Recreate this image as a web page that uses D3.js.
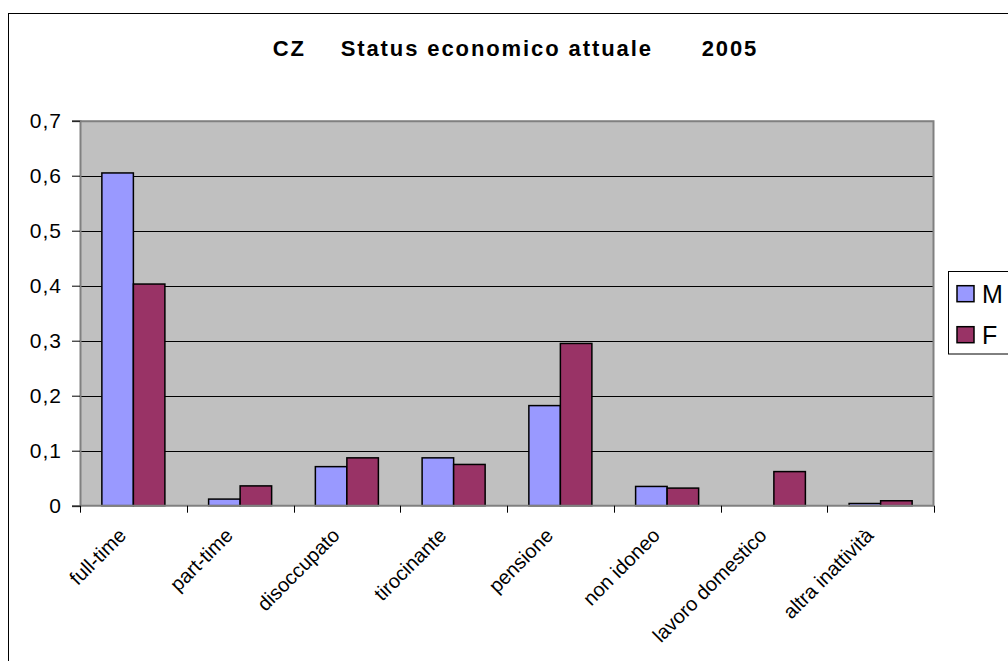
<!DOCTYPE html>
<html>
<head>
<meta charset="utf-8">
<script src="https://cdn.jsdelivr.net/npm/d3@7"></script>
<style>
  html, body { margin: 0; padding: 0; background: #fff; }
  svg { display: block; font-family: Arial, "Liberation Sans", sans-serif; }
</style>
</head>
<body>
<svg id="chart" width="1008" height="661"></svg>
<script>
const categories = ["full-time", "part-time", "disoccupato", "tirocinante", "pensione", "non idoneo", "lavoro domestico", "altra inattività"];
const seriesNames = ["M", "F"];
const valuesM = [0.605, 0.012, 0.071, 0.087, 0.182, 0.035, 0.0, 0.004];
const valuesF = [0.403, 0.036, 0.087, 0.075, 0.295, 0.032, 0.062, 0.009];
const yTicks = [0, 0.1, 0.2, 0.3, 0.4, 0.5, 0.6, 0.7];
const titleParts = ["CZ", "Status economico attuale", "2005"];
const colors = { M: "#9999FF", F: "#993366" };

const svg = d3.select("#chart");

// outer chart border (extends beyond the visible frame at right/bottom)
svg.append("rect")
  .attr("x", 8.5).attr("y", 13.5)
  .attr("width", 1100).attr("height", 700)
  .attr("fill", "#fff").attr("stroke", "#000").attr("stroke-width", 1);

const plot = { left: 80, right: 934, top: 120.7, bottom: 505.7 };

const x = d3.scaleBand().domain(categories).range([plot.left, plot.right]).paddingInner(0).paddingOuter(0);
const x1 = d3.scaleBand().domain(seriesNames).range([0, x.bandwidth()]).paddingInner(0).paddingOuter(0.694);
const y = d3.scaleLinear().domain([0, 0.7]).range([plot.bottom, plot.top]);

// plot background
svg.append("rect")
  .attr("x", plot.left).attr("y", plot.top)
  .attr("width", plot.right - plot.left).attr("height", plot.bottom - plot.top)
  .attr("fill", "#C0C0C0");

// gridlines
svg.append("g").selectAll("line")
  .data(yTicks.filter(t => t > 0 && t < 0.7))
  .join("line")
  .attr("x1", plot.left).attr("x2", plot.right)
  .attr("y1", d => Math.round(y(d)) + 0.5).attr("y2", d => Math.round(y(d)) + 0.5)
  .attr("stroke", "#000").attr("stroke-width", 1);

// plot frame top/right (grey)
svg.append("path")
  .attr("d", `M${plot.left},${plot.top + 0.5}H${plot.right - 0.5}V${plot.bottom}`)
  .attr("fill", "none").attr("stroke", "#808080").attr("stroke-width", 2);

// bars
const data = categories.map((c, i) => ({ cat: c, M: valuesM[i], F: valuesF[i] }));
const groups = svg.append("g").selectAll("g")
  .data(data).join("g")
  .attr("transform", d => `translate(${x(d.cat)},0)`);
groups.selectAll("rect")
  .data(d => seriesNames.map(s => ({ s, v: d[s] })))
  .join("rect")
  .attr("x", d => x1(d.s))
  .attr("y", d => y(d.v))
  .attr("width", x1.bandwidth())
  .attr("height", d => y(0) - y(d.v))
  .attr("fill", d => colors[d.s])
  .attr("stroke", "#000").attr("stroke-width", 1.5);

// y axis
const fmt = d => d === 0 ? "0" : d.toFixed(1).replace(".", ",");
const yAxis = d3.axisLeft(y).tickValues(yTicks).tickFormat(fmt).tickSize(8).tickPadding(10);
const gy = svg.append("g").attr("transform", `translate(${plot.left},0)`).call(yAxis);
gy.select(".domain").attr("stroke", "#808080").attr("stroke-width", 2);
gy.selectAll(".tick line").attr("stroke", "#000");
gy.selectAll(".tick text")
  .attr("font-size", 21).attr("letter-spacing", 1)
  .attr("fill", "#000")
  .attr("font-family", "Arial, 'Liberation Sans', sans-serif");

// x axis (ticks at category boundaries)
const gx = svg.append("g");
gx.append("line")
  .attr("x1", plot.left).attr("x2", plot.right)
  .attr("y1", plot.bottom).attr("y2", plot.bottom)
  .attr("stroke", "#808080").attr("stroke-width", 2);
const boundaries = categories.map(c => x(c)).concat([x(categories[categories.length - 1]) + x.bandwidth()]);
gx.selectAll("line.tk").data(boundaries).join("line").attr("class", "tk")
  .attr("x1", d => Math.round(d) + 0.5).attr("x2", d => Math.round(d) + 0.5)
  .attr("y1", plot.bottom).attr("y2", plot.bottom + 7)
  .attr("stroke", "#000");
gx.selectAll("text").data(categories).join("text")
  .attr("transform", d => `translate(${x(d) + x.bandwidth() / 2 - 6},${plot.bottom + 31}) rotate(-45)`)
  .attr("text-anchor", "end")
  .attr("font-size", 20)
  .attr("fill", "#000")
  .text(d => d);

// title
const title = svg.append("text")
  .attr("y", 56)
  .attr("font-size", 22).attr("font-weight", "bold").attr("letter-spacing", 1.9)
  .attr("fill", "#000");
const titleX = [272.7, 340.7, 701.7];
title.selectAll("tspan").data(titleParts).join("tspan")
  .attr("x", (d, i) => titleX[i])
  .text(d => d);

// legend
const lg = svg.append("g");
lg.append("rect")
  .attr("x", 948.5).attr("y", 271.5).attr("width", 100).attr("height", 82.5)
  .attr("fill", "#fff").attr("stroke", "#000").attr("stroke-width", 1);
const legY = [285.7, 326.7];
seriesNames.forEach((s, i) => {
  lg.append("rect")
    .attr("x", 957).attr("y", legY[i])
    .attr("width", 17).attr("height", 16)
    .attr("fill", colors[s]).attr("stroke", "#000").attr("stroke-width", 1.5);
  lg.append("text")
    .attr("x", 982).attr("y", legY[i] + 17.5)
    .attr("font-size", 25).attr("fill", "#000")
    .text(s);
});
</script>
</body>
</html>
